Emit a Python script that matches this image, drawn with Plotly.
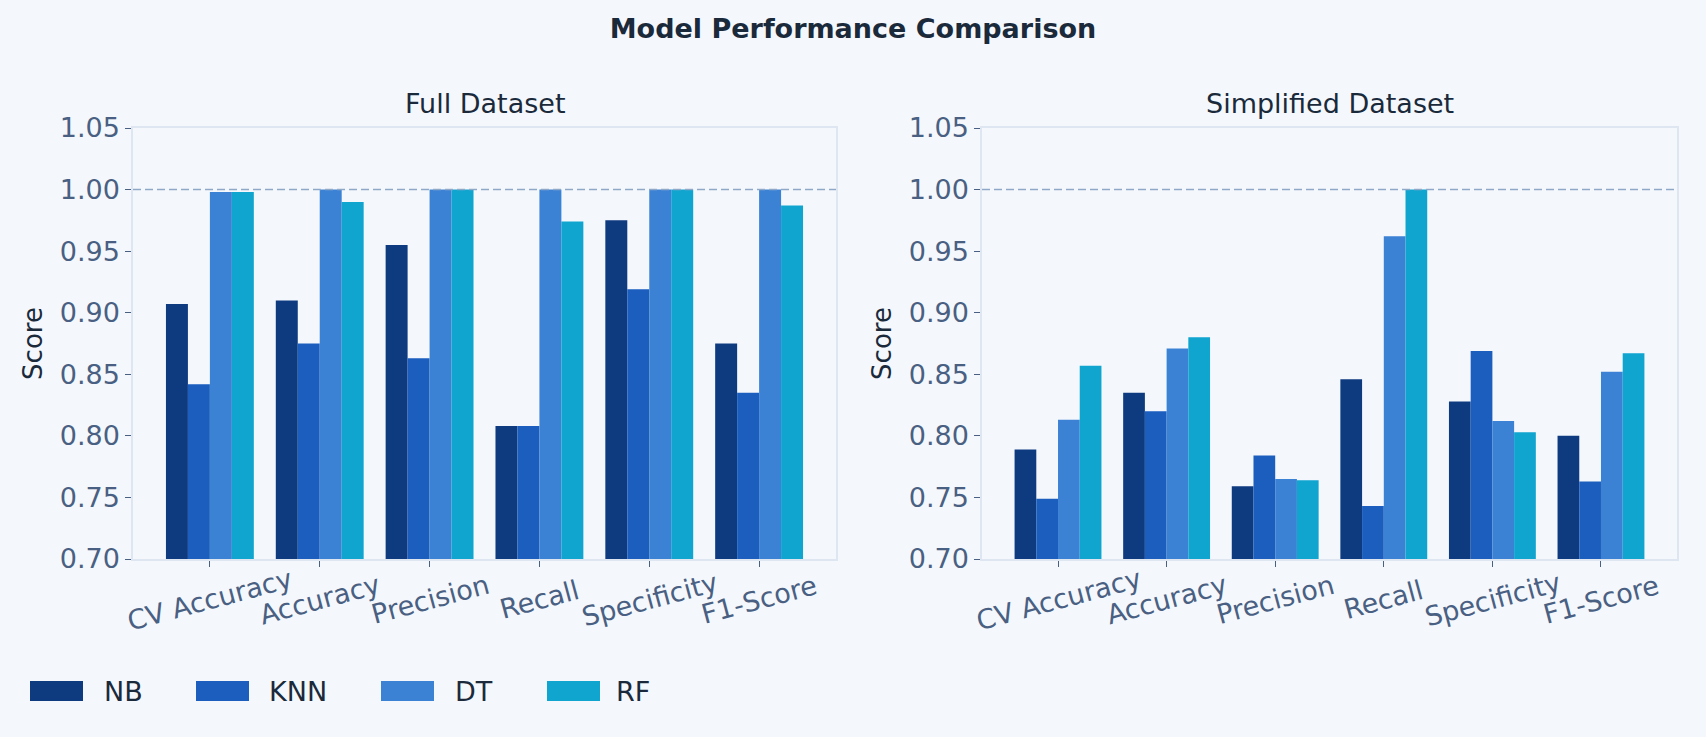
import plotly.graph_objects as go
from plotly.subplots import make_subplots

metrics = ["CV Accuracy", "Accuracy", "Precision", "Recall", "Specificity", "F1-Score"]
models = ["NB", "KNN", "DT", "RF"]
colors = ["#0e3a80", "#1b5ebe", "#3c82d4", "#0fa5cf"]

full_nb = [0.907, 0.910, 0.955, 0.808, 0.975, 0.875]
full_knn = [0.842, 0.875, 0.863, 0.808, 0.919, 0.835]
full_dt = [0.998, 1.000, 1.000, 1.000, 1.000, 1.000]
full_rf = [0.998, 0.990, 1.000, 0.974, 1.000, 0.987]

simp_nb = [0.789, 0.835, 0.759, 0.846, 0.828, 0.800]
simp_knn = [0.749, 0.820, 0.784, 0.743, 0.869, 0.763]
simp_dt = [0.813, 0.871, 0.765, 0.962, 0.812, 0.852]
simp_rf = [0.857, 0.880, 0.764, 1.000, 0.803, 0.867]

yticks = [0.70, 0.75, 0.80, 0.85, 0.90, 0.95, 1.00, 1.05]

full = [full_nb, full_knn, full_dt, full_rf]
simp = [simp_nb, simp_knn, simp_dt, simp_rf]

W, H = 1706, 737
BG = "#f4f8fd"
FONT = "DejaVu Sans"
TICKC = "#4a6082"
DARK = "#1b2a3b"
FRAME = "#dde6f1"
FS = 27

fig = make_subplots(rows=1, cols=2)

for col, data in [(1, full), (2, simp)]:
    for name, vals, c in zip(models, data, colors):
        fig.add_trace(go.Bar(x=metrics, y=vals, name=name, marker=dict(color=c, line=dict(width=0)),
                             showlegend=False), row=1, col=col)

fig.update_layout(
    width=W, height=H,
    paper_bgcolor=BG, plot_bgcolor=BG,
    margin=dict(l=0, r=0, t=0, b=0, autoexpand=False),
    barmode="group", bargap=0.2, bargroupgap=0,
    font=dict(family=FONT, color=DARK),
    title=dict(text="<b>Model Performance Comparison</b>", x=0.5, xanchor="center",
               y=1 - 29 / H, yanchor="middle", font=dict(size=FS, color=DARK, family=FONT)),
)

xd = [[133 / W, 836 / W], [982 / W, 1677 / W]]
y0, y1 = 1 - 559 / H, 1 - 128 / H
for i, ax in enumerate(["xaxis", "xaxis2"]):
    fig.layout[ax].update(domain=xd[i], range=[-0.7, 5.7], showgrid=False, showline=True, mirror=True,
                          linecolor=FRAME, linewidth=1.5, ticks="outside", ticklen=6, tickcolor=TICKC,
                          showticklabels=False, zeroline=False, automargin=False)
for i, ax in enumerate(["yaxis", "yaxis2"]):
    fig.layout[ax].update(domain=[y0, y1], range=[0.70, 1.05], tickvals=yticks, tickformat=".2f",
                          showgrid=False, showline=True, mirror=True, linecolor=FRAME, linewidth=1.5,
                          ticks="outside", ticklen=6, tickcolor=TICKC, zeroline=False, automargin=False,
                          tickfont=dict(size=FS, color=TICKC, family=FONT),
                          title=dict(text="Score", font=dict(size=FS - 1, color=DARK, family=FONT), standoff=10))

# rotated category labels centred on their ticks
for xr in ["x", "x2"]:
    for m in metrics:
        fig.add_annotation(text=m, x=m, xref=xr, y=1 - 599 / H, yref="paper", showarrow=False,
                           xanchor="center", yanchor="middle", textangle=-15,
                           font=dict(size=FS, color=TICKC, family=FONT))

# reference line at 1.0
for xr, yr in [("x", "y"), ("x2", "y2")]:
    fig.add_shape(type="line", xref=f"{xr} domain", yref=yr, x0=0, x1=1, y0=1.0, y1=1.0,
                  line=dict(color="#8fa8c8", width=1.5, dash="8px,4px"), layer="above")

# subplot titles
for xdom, t in zip(xd, ["Full Dataset", "Simplified Dataset"]):
    fig.add_annotation(text=t, x=(xdom[0] + xdom[1]) / 2, y=1 - 103 / H, xref="paper", yref="paper",
                       showarrow=False, xanchor="center", yanchor="middle",
                       font=dict(size=FS, color=DARK, family=FONT))

# legend (manual)
sw = [30, 196, 381, 547]
tx = [102, 267, 453, 614]
for name, c, s, t in zip(models, colors, sw, tx):
    fig.add_shape(type="rect", xref="paper", yref="paper", x0=s / W, x1=(s + 53) / W,
                  y0=1 - 701 / H, y1=1 - 681 / H, fillcolor=c, line=dict(width=0))
    fig.add_annotation(text=name, x=t / W, y=1 - 691 / H, xref="paper", yref="paper", showarrow=False,
                       xanchor="left", yanchor="middle", font=dict(size=FS, color=DARK, family=FONT))

fig.write_html("out.html", config={"displayModeBar": False},
               post_script="document.body.style.margin='0px';")
